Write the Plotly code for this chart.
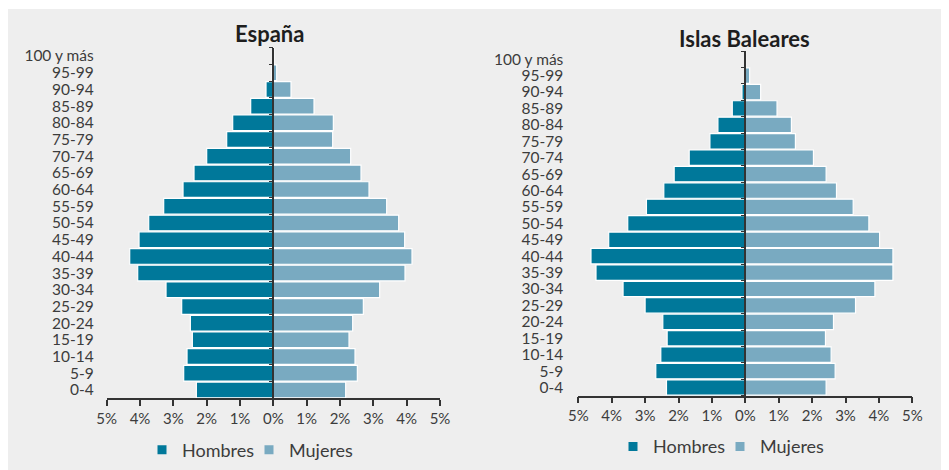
import plotly.graph_objects as go

ages = ["0-4", "5-9", "10-14", "15-19", "20-24", "25-29", "30-34", "35-39",
        "40-44", "45-49", "50-54", "55-59", "60-64", "65-69", "70-74", "75-79",
        "80-84", "85-89", "90-94", "95-99", "100 y más"]

esp_hombres = [2.31, 2.69, 2.59, 2.43, 2.49, 2.75, 3.22, 4.07, 4.31, 4.03, 3.74,
               3.29, 2.71, 2.38, 2.00, 1.40, 1.22, 0.68, 0.22, 0.04, 0.01]
esp_mujeres = [2.17, 2.52, 2.45, 2.27, 2.38, 2.70, 3.19, 3.95, 4.16, 3.94, 3.76,
               3.40, 2.87, 2.63, 2.32, 1.78, 1.80, 1.22, 0.53, 0.10, 0.02]
bal_hombres = [2.36, 2.68, 2.53, 2.34, 2.47, 3.00, 3.66, 4.47, 4.62, 4.09, 3.52,
               2.96, 2.44, 2.13, 1.68, 1.06, 0.82, 0.39, 0.10, 0.02, 0.00]
bal_mujeres = [2.42, 2.69, 2.57, 2.40, 2.64, 3.30, 3.88, 4.42, 4.42, 4.02, 3.70,
               3.23, 2.73, 2.42, 2.04, 1.50, 1.38, 0.95, 0.46, 0.13, 0.01]

tick_vals = [-5, -4, -3, -2, -1, 0, 1, 2, 3, 4, 5]
tick_text = ["5%", "4%", "3%", "2%", "1%", "0%", "1%", "2%", "3%", "4%", "5%"]

titles = ["España", "Islas Baleares"]
series_names = ["Hombres", "Mujeres"]

C_H = "#00789a"
C_M = "#79aac1"
AX = "#333333"
TXT = "#3c3c3c"
FONT = "Lato"

# page body has an 8px margin; figure sized so it ends at the window edge
OFF = 8
W, H = 941, 462
SCREEN_H = 470


def fx(px):
    return (px - OFF) / W


def fy(py):
    return (SCREEN_H - py) / H


fig = go.Figure()

panels = [
    dict(h=esp_hombres, m=esp_mujeres, x="x", y="y", y_ax="y3", legend="legend"),
    dict(h=bal_hombres, m=bal_mujeres, x="x2", y="y2", y_ax="y4", legend="legend2"),
]

for p in panels:
    fig.add_trace(go.Bar(
        y=ages, x=[-v for v in p["h"]], orientation="h", name=series_names[0],
        marker=dict(color=C_H, line=dict(color="white", width=1.2)),
        xaxis=p["x"], yaxis=p["y"], showlegend=False,
        customdata=p["h"], hovertemplate="%{y}: %{customdata}%<extra>Hombres</extra>"))
    fig.add_trace(go.Bar(
        y=ages, x=p["m"], orientation="h", name=series_names[1],
        marker=dict(color=C_M, line=dict(color="white", width=1.2)),
        xaxis=p["x"], yaxis=p["y"], showlegend=False,
        hovertemplate="%{y}: %{x}%<extra>Mujeres</extra>"))
    # invisible trace that carries the centre (zero) axis
    fig.add_trace(go.Scatter(
        y=ages, x=p["m"], mode="markers", marker=dict(opacity=0),
        xaxis=p["x"], yaxis=p["y_ax"], showlegend=False, hoverinfo="skip"))
    # legend entries
    for name, col in zip(series_names, [C_H, C_M]):
        fig.add_trace(go.Scatter(
            x=[None], y=[None], mode="markers", name=name,
            marker=dict(symbol="square", size=9, color=col),
            xaxis=p["x"], yaxis=p["y"], legend=p["legend"], showlegend=True))

xd1 = [fx(106.7), fx(440.0)]
xd2 = [fx(578.3), fx(912.3)]
yd1 = [fy(398.3), fy(47.7)]
yd2 = [fy(395.7), fy(51.0)]

xcommon = dict(range=[-5, 5], tickvals=tick_vals, ticktext=tick_text,
               ticks="outside", ticklen=6, tickwidth=1.5, tickcolor=AX,
               showline=True, linecolor=AX, linewidth=1.5, showgrid=False,
               zeroline=False, tickfont=dict(family=FONT, size=15, color=TXT),
               fixedrange=True, automargin=False)
ycommon = dict(type="category", categoryorder="array", categoryarray=ages,
               tickmode="array", tickvals=ages, ticktext=ages,
               range=[-0.5, 20.5], showgrid=False, zeroline=False,
               showline=False, ticks="",
               tickfont=dict(family=FONT, size=15.5, color=TXT), fixedrange=True,
               automargin=False)
ycentre = dict(type="category", categoryorder="array", categoryarray=ages,
               tickmode="array", tickvals=ages,
               range=[-0.5, 20.5], showgrid=False, zeroline=False,
               showline=True, linecolor=AX, linewidth=1.5,
               ticks="outside", ticklen=4, tickwidth=1.2, tickcolor=AX,
               tickson="boundaries", showticklabels=False, anchor="free",
               side="left", fixedrange=True, automargin=False)

legend_common = dict(orientation="h", xanchor="center", yanchor="middle",
                     bgcolor="rgba(0,0,0,0)", itemwidth=30,
                     entrywidth=62, entrywidthmode="pixels",
                     font=dict(family=FONT, size=18, color=TXT))

fig.update_layout(
    width=W, height=H,
    margin=dict(l=0, r=0, t=0, b=0),
    paper_bgcolor="#eeeeee", plot_bgcolor="rgba(0,0,0,0)",
    barmode="relative", bargap=0.06,
    font=dict(family=FONT, color=TXT),
    xaxis=dict(domain=xd1, anchor="y", **xcommon),
    xaxis2=dict(domain=xd2, anchor="y2", **xcommon),
    yaxis=dict(domain=yd1, anchor="x", ticklabelstandoff=12, **ycommon),
    yaxis2=dict(domain=yd2, anchor="x2", ticklabelstandoff=14, **ycommon),
    yaxis3=dict(domain=yd1, overlaying="y", position=(xd1[0] + xd1[1]) / 2, **ycentre),
    yaxis4=dict(domain=yd2, overlaying="y2", position=(xd2[0] + xd2[1]) / 2, **ycentre),
    legend=dict(x=fx(249), y=fy(450), **legend_common),
    legend2=dict(x=fx(720), y=fy(446.7), **legend_common),
    shapes=[dict(type="rect", xref="paper", yref="paper", x0=0, x1=1,
                 y0=fy(9), y1=1, fillcolor="white", line=dict(width=0),
                 layer="below")],
    annotations=[
        dict(text=titles[0], xref="paper", yref="paper", x=fx(269), y=fy(33),
             showarrow=False, xanchor="center", yanchor="middle",
             font=dict(family=FONT, size=22, color="#1e1e1e", weight=700)),
        dict(text=titles[1], xref="paper", yref="paper", x=fx(744.5), y=fy(38),
             showarrow=False, xanchor="center", yanchor="middle",
             font=dict(family=FONT, size=22, color="#1e1e1e", weight=700)),
    ],
)

fig.write_html("out.html")
